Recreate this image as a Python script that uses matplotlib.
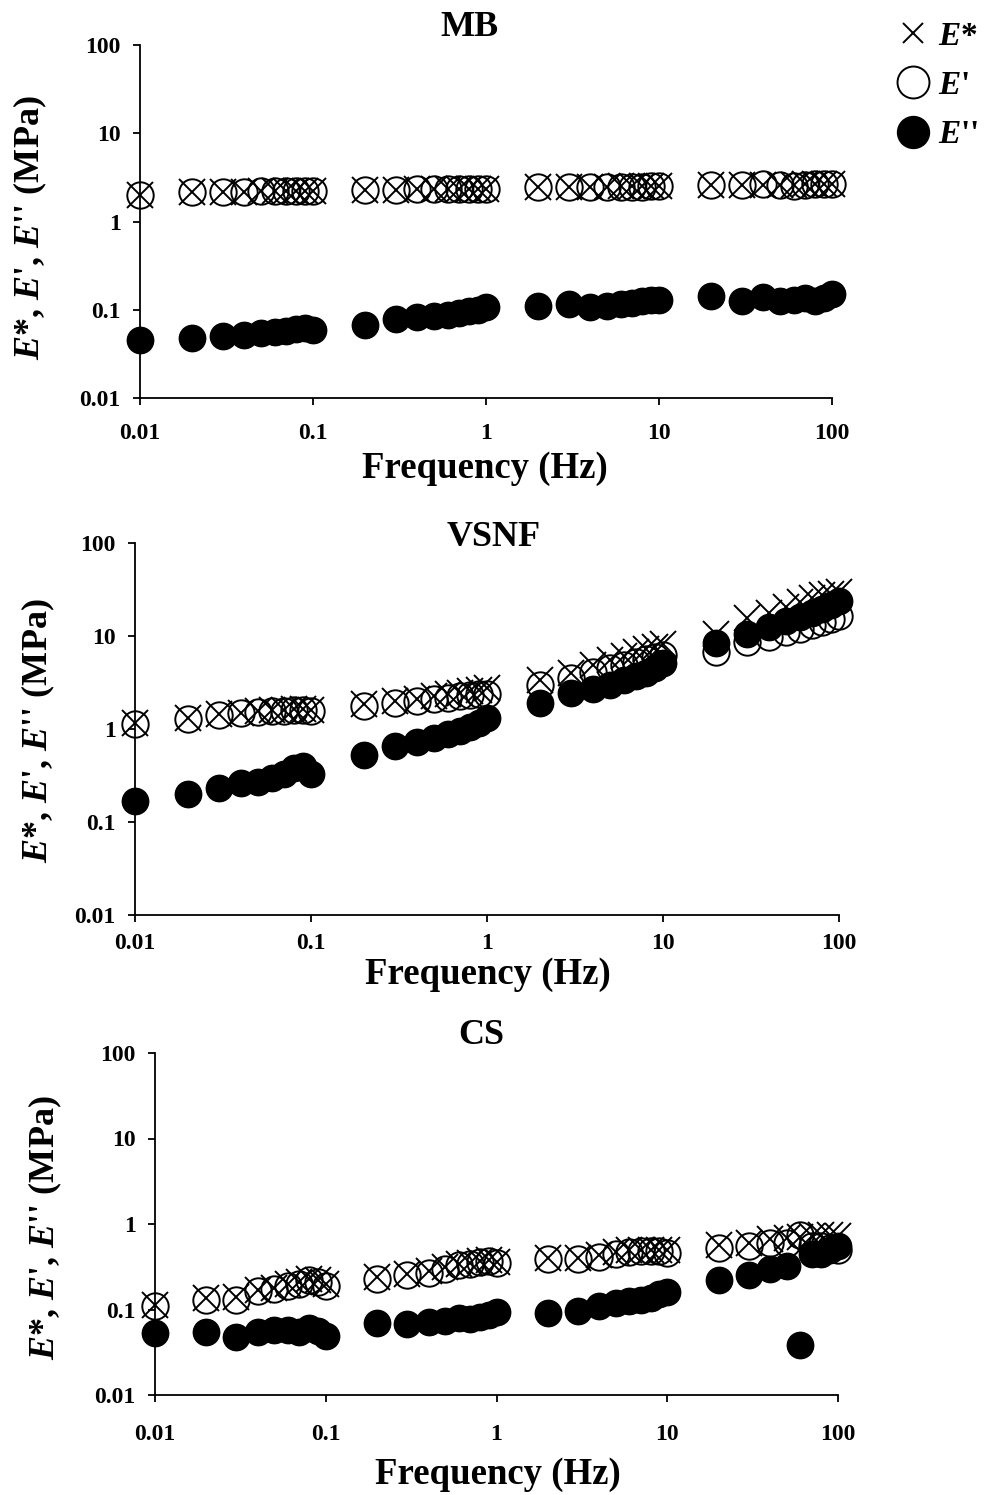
import matplotlib
matplotlib.use("Agg")
import matplotlib.pyplot as plt
from matplotlib.lines import Line2D
from matplotlib.ticker import NullLocator

plt.rcParams['font.family'] = ['Liberation Serif', 'DejaVu Serif']
plt.rcParams['font.weight'] = 'bold'
plt.rcParams['mathtext.fontset'] = 'custom'
plt.rcParams['mathtext.it'] = 'Liberation Serif:italic:bold'
plt.rcParams['mathtext.rm'] = 'Liberation Serif:bold'
plt.rcParams['mathtext.bf'] = 'Liberation Serif:bold'

# frequencies (Hz)
freq = [0.01, 0.02, 0.03, 0.04, 0.05, 0.06, 0.07, 0.08, 0.09, 0.1,
        0.2, 0.3, 0.4, 0.5, 0.6, 0.7, 0.8, 0.9, 1,
        2, 3, 4, 5, 6, 7, 8, 9, 10,
        20, 30, 40, 50, 60, 70, 80, 90, 100]

# MB
mb_estar = [2.0, 2.15, 2.15, 2.18, 2.2, 2.2, 2.2, 2.22, 2.22, 2.22,
            2.3, 2.3, 2.32, 2.33, 2.35, 2.35, 2.35, 2.36, 2.36,
            2.45, 2.45, 2.47, 2.48, 2.5, 2.5, 2.5, 2.52, 2.52,
            2.6, 2.6, 2.62, 2.62, 2.6, 2.65, 2.65, 2.65, 2.65]
mb_eprime = [2.0, 2.14, 2.14, 2.17, 2.19, 2.19, 2.19, 2.21, 2.21, 2.21,
             2.29, 2.29, 2.31, 2.32, 2.34, 2.34, 2.34, 2.35, 2.35,
             2.44, 2.44, 2.46, 2.47, 2.49, 2.49, 2.49, 2.51, 2.51,
             2.6, 2.6, 2.65, 2.6, 2.55, 2.62, 2.63, 2.63, 2.63]
mb_edouble = [0.045, 0.048, 0.05, 0.052, 0.054, 0.056, 0.058, 0.061, 0.062, 0.059,
              0.067, 0.079, 0.083, 0.086, 0.088, 0.092, 0.097, 0.1, 0.108,
              0.11, 0.115, 0.108, 0.11, 0.115, 0.12, 0.125, 0.128, 0.13,
              0.145, 0.125, 0.14, 0.125, 0.13, 0.135, 0.125, 0.135, 0.15]

# VSNF
vs_estar = [1.15, 1.3, 1.45, 1.5, 1.55, 1.6, 1.62, 1.65, 1.65, 1.6,
            1.85, 2.0, 2.1, 2.25, 2.35, 2.45, 2.55, 2.65, 2.75,
            3.4, 4.0, 4.9, 5.5, 6.1, 6.7, 7.2, 7.7, 8.2,
            10.5, 15.5, 17.5, 20.5, 23.0, 25.5, 27.5, 28.5, 29.5]
vs_eprime = [1.13, 1.28, 1.42, 1.47, 1.52, 1.56, 1.58, 1.6, 1.6, 1.56,
             1.78, 1.9, 1.98, 2.1, 2.18, 2.25, 2.32, 2.38, 2.4,
             2.95, 3.5, 4.1, 4.5, 4.9, 5.3, 5.6, 5.9, 6.2,
             6.8, 8.6, 9.8, 11.0, 12.0, 13.0, 14.0, 15.3, 16.5]
vs_edouble = [0.17, 0.2, 0.23, 0.26, 0.27, 0.3, 0.33, 0.38, 0.4, 0.33,
              0.53, 0.66, 0.72, 0.8, 0.88, 0.96, 1.05, 1.15, 1.3,
              1.9, 2.45, 2.7, 3.0, 3.4, 3.7, 4.0, 4.5, 5.1,
              8.4, 10.5, 12.5, 14.5, 16.0, 17.5, 19.5, 21.5, 23.5]

# CS
cs_estar = [0.113, 0.135, 0.14, 0.17, 0.18, 0.2, 0.21, 0.23, 0.22, 0.2,
            0.24, 0.26, 0.28, 0.31, 0.34, 0.35, 0.37, 0.38, 0.36,
            0.4, 0.4, 0.43, 0.47, 0.49, 0.5, 0.5, 0.5, 0.49,
            0.57, 0.6, 0.66, 0.68, 0.7, 0.72, 0.74, 0.75, 0.72]
cs_eprime = [0.11, 0.13, 0.13, 0.165, 0.175, 0.19, 0.2, 0.22, 0.21, 0.19,
             0.23, 0.25, 0.27, 0.3, 0.33, 0.34, 0.36, 0.37, 0.35,
             0.39, 0.39, 0.41, 0.45, 0.47, 0.48, 0.48, 0.48, 0.46,
             0.53, 0.55, 0.6, 0.6, 0.75, 0.56, 0.55, 0.52, 0.5]
cs_edouble = [0.053, 0.055, 0.048, 0.055, 0.057, 0.057, 0.055, 0.06, 0.056, 0.049,
              0.07, 0.068, 0.072, 0.074, 0.08, 0.077, 0.082, 0.087, 0.093,
              0.09, 0.097, 0.11, 0.118, 0.125, 0.13, 0.138, 0.15, 0.16,
              0.22, 0.25, 0.3, 0.32, 0.038, 0.45, 0.44, 0.5, 0.55]

titles = ["MB", "VSNF", "CS"]
series = [(mb_estar, mb_eprime, mb_edouble),
          (vs_estar, vs_eprime, vs_edouble),
          (cs_estar, cs_eprime, cs_edouble)]
ticks = [0.01, 0.1, 1, 10, 100]
tick_labels = ["0.01", "0.1", "1", "10", "100"]

W, H = 991, 1495
fig = plt.figure(figsize=(W / 100, H / 100), dpi=100)


def fx(x):
    return x / W


def fy(y):
    return 1 - y / H


# layout in pixels: axes box (left, top, right, bottom), title, xlabel, ylabel centres
boxes = [(140, 45, 832, 398), (135, 543, 839, 915), (155, 1053, 838, 1395)]
title_pos = [(469, 27), (494, 537), (481, 1036)]
xlab_pos = [(485, 468), (488, 975), (498, 1475)]
ylab_pos = [(30, 228), (38, 731), (45, 1228)]
xpads = [13, 8, 16]

ylabel = "$E$*, $E$', $E$'' (MPa)"
ms = 19

for i, (name, (es, ep, ed)) in enumerate(zip(titles, series)):
    l, t, r, b = boxes[i]
    ax = fig.add_axes([fx(l), fy(b), fx(r) - fx(l), fy(t) - fy(b)])
    ax.plot(freq, es, ls='none', marker='x', ms=ms, mew=1.4, color='k', clip_on=False)
    ax.plot(freq, ep, ls='none', marker='o', ms=ms, mfc='none', mec='k', mew=1.4, clip_on=False)
    ax.plot(freq, ed, ls='none', marker='o', ms=ms, color='k', clip_on=False)
    ax.set_xscale('log')
    ax.set_yscale('log')
    ax.set_xlim(0.01, 100)
    ax.set_ylim(0.01, 100)
    ax.set_xticks(ticks)
    ax.set_xticklabels(tick_labels)
    ax.set_yticks(ticks)
    ax.set_yticklabels(tick_labels)
    ax.xaxis.set_minor_locator(NullLocator())
    ax.yaxis.set_minor_locator(NullLocator())
    for s in ['top', 'right']:
        ax.spines[s].set_visible(False)
    for s in ['left', 'bottom']:
        ax.spines[s].set_linewidth(1.3)
    ax.tick_params(axis='both', direction='out', length=5, width=1.3, labelsize=17)
    ax.tick_params(axis='x', pad=xpads[i])
    ax.tick_params(axis='y', pad=9)
    ax.patch.set_alpha(0)

    fig.text(fx(title_pos[i][0]), fy(title_pos[i][1]), name, ha='center', va='center',
             fontsize=26, fontweight='bold')
    fig.text(fx(xlab_pos[i][0]), fy(xlab_pos[i][1]), "Frequency (Hz)", ha='center', va='center',
             fontsize=26.5, fontweight='bold')
    fig.text(fx(ylab_pos[i][0]), fy(ylab_pos[i][1]), ylabel, ha='center', va='center',
             rotation=90, fontsize=26, fontweight='bold')

handles = [
    Line2D([], [], ls='none', marker='x', ms=15, mew=1.4, color='k'),
    Line2D([], [], ls='none', marker='o', ms=23, mfc='none', mec='k', mew=1.4),
    Line2D([], [], ls='none', marker='o', ms=23, color='k'),
]
fig.legend(handles, ["$E$*", "$E$'", "$E$''"], loc='upper left',
           bbox_to_anchor=(fx(880), fy(4)), frameon=False, fontsize=24,
           handlelength=1.0, handletextpad=0.25, labelspacing=0.55, borderpad=0)

fig.savefig("out.png", dpi=100)
